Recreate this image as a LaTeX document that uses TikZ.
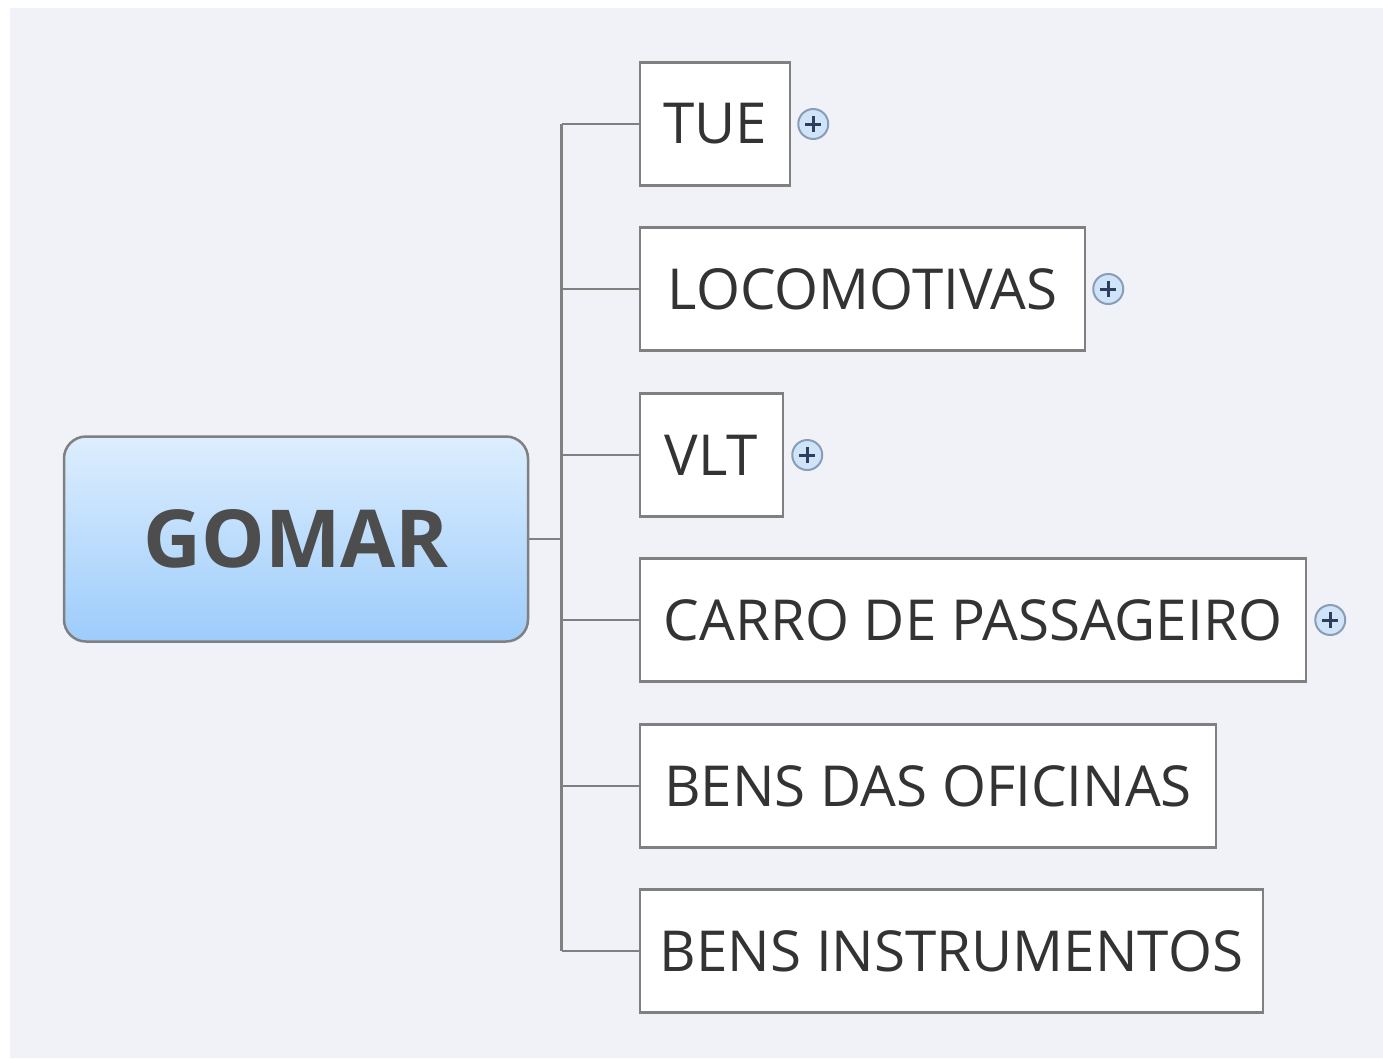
\documentclass[tikz,border=0pt]{standalone}
\usepackage{fontspec}
\setmainfont{Open Sans}
\definecolor{bgc}{HTML}{F1F2F8}
\definecolor{linec}{HTML}{808080}
\definecolor{txtc}{HTML}{333333}
\definecolor{roottxt}{HTML}{4D4D4D}
\definecolor{gtop}{HTML}{DDEEFE}
\definecolor{gbot}{HTML}{9DCCFB}
\definecolor{plusfill}{HTML}{CFE4F8}
\definecolor{plusedge}{HTML}{8A9DB8}
\definecolor{plusmark}{HTML}{2E3F5E}
\tikzset{
  rootbox/.style={draw=linec, line width=2.5pt, rounded corners=22pt,
    top color=gtop, bottom color=gbot, minimum width=464pt, minimum height=205pt,
    font=\fontsize{80}{92}\selectfont\bfseries, text=roottxt, inner sep=0pt},
  childbox/.style={draw=linec, line width=2.5pt, fill=white, minimum height=123pt,
    font=\fontsize{56.5}{66}\selectfont, text=txtc, inner sep=0pt},
  conn/.style={draw=linec, line width=2.5pt},
  plusicon/.style={circle, draw=plusedge, fill=plusfill, line width=2pt,
    minimum size=30pt, inner sep=0pt,
    path picture={
      \draw[plusmark, line width=3pt]
        ([xshift=-8pt]path picture bounding box.center) -- ([xshift=8pt]path picture bounding box.center)
        ([yshift=-8pt]path picture bounding box.center) -- ([yshift=8pt]path picture bounding box.center);
    }}
}
\begin{document}
\begin{tikzpicture}[x=1pt,y=-1pt]
\useasboundingbox (0,0) rectangle (1383,1058);
\fill[white] (0,0) rectangle (1383,1058);
\fill[bgc] (10,8) rectangle (1383,1058);

\coordinate (trunk) at (561.5,0);

\node[rootbox] (gomar) at (296,539) {GOMAR};

\node[childbox, minimum width=150pt] (tue) at (715,124) {TUE};
\node[childbox, minimum width=445pt] (loco) at (862.5,289) {LOCOMOTIVAS};
\node[childbox, minimum width=143pt] (vlt) at (711.5,455) {VLT};
\node[childbox, minimum width=666pt] (carro) at (973,620) {CARRO DE PASSAGEIRO};
\node[childbox, minimum width=576pt] (ofic) at (928,786) {BENS DAS OFICINAS};
\node[childbox, minimum width=623pt] (instr) at (951.5,951) {BENS INSTRUMENTOS};

\draw[conn] (trunk |- tue.west) -- (trunk |- instr.west);
\draw[conn] (gomar.east) -- (trunk |- gomar.east);
\foreach \n in {tue,loco,vlt,carro,ofic,instr}{
  \draw[conn] (trunk |- \n.west) -- (\n.west);
}

\node[plusicon] (ptue) at ([xshift=22pt]tue.east) {};
\node[plusicon] (ploco) at ([xshift=22pt]loco.east) {};
\node[plusicon] (pvlt) at ([xshift=23pt]vlt.east) {};
\node[plusicon] (pcarro) at ([xshift=23pt]carro.east) {};
\end{tikzpicture}
\end{document}
